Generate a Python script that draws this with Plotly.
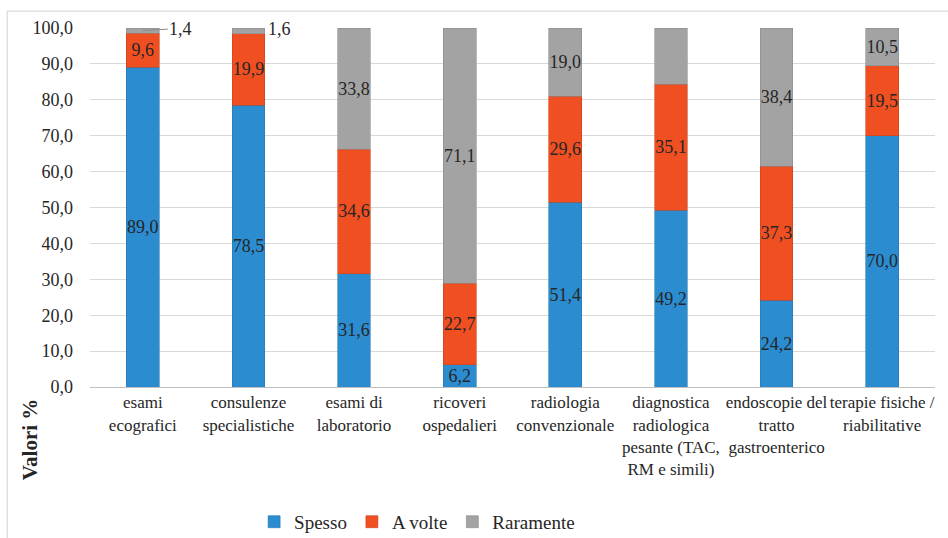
import plotly.graph_objects as go

categories = [
    "esami<br>ecografici",
    "consulenze<br>specialistiche",
    "esami di<br>laboratorio",
    "ricoveri<br>ospedalieri",
    "radiologia<br>convenzionale",
    "diagnostica<br>radiologica<br>pesante (TAC,<br>RM e simili)",
    "endoscopie del<br>tratto<br>gastroenterico",
    "terapie fisiche /<br>riabilitative",
]
spesso = [89.0, 78.5, 31.6, 6.2, 51.4, 49.2, 24.2, 70.0]
a_volte = [9.6, 19.9, 34.6, 22.7, 29.6, 35.1, 37.3, 19.5]
raramente = [1.4, 1.6, 33.8, 71.1, 19.0, 15.7, 38.4, 10.5]
y_ticks = [0, 10, 20, 30, 40, 50, 60, 70, 80, 90, 100]

FONT = "Liberation Serif, Times New Roman, serif"
TXT = "#262626"

series = [
    ("Spesso", spesso, "#2B8CD0", "#2779B2"),
    ("A volte", a_volte, "#F04F22", "#C9431C"),
    ("Raramente", raramente, "#A3A3A3", "#8C8C8C"),
]

# thin segments get their labels placed beside the bar instead of inside
SMALL = 5.0


def fmt(v):
    return f"{v:.1f}".replace(".", ",")


fig = go.Figure()
for name, vals, color, edge in series:
    labels = [("" if v < SMALL else fmt(v)) for v in vals]
    if name == "Spesso":
        labels = [fmt(v) for v in vals]
    fig.add_trace(go.Bar(
        name=name,
        x=categories,
        y=vals,
        width=0.31,
        marker=dict(color=color, line=dict(color=edge, width=0.6)),
        text=labels,
        textposition="inside",
        insidetextanchor="middle",
        textangle=0,
        constraintext="none",
        textfont=dict(family=FONT, size=18, color=TXT),
        cliponaxis=False,
    ))

# outside labels for the thin "Raramente" segments
for i, v in enumerate(raramente):
    if v >= SMALL:
        continue
    top = spesso[i] + a_volte[i] + v
    if i == 0:
        fig.add_annotation(
            x=categories[i], y=top - v / 2, text=fmt(v),
            showarrow=True, arrowhead=0, arrowwidth=1, arrowcolor="#8C8C8C",
            ax=38, ay=-2, standoff=0,
            font=dict(family=FONT, size=18, color=TXT),
        )
    else:
        fig.add_annotation(
            x=categories[i], y=top - v / 2, text=fmt(v),
            showarrow=False, xshift=31, yshift=2,
            font=dict(family=FONT, size=18, color=TXT),
        )

# y-axis title set low beside the category labels
fig.add_annotation(
    xref="paper", yref="paper", x=-0.071, y=-0.148,
    xanchor="center", yanchor="middle",
    text="<b>Valori %</b>", textangle=-90, showarrow=False,
    font=dict(family=FONT, size=21, color=TXT),
)

# outer frame of the chart area
fig.add_shape(
    type="rect", xref="paper", yref="paper",
    x0=-0.098, y0=-0.5, x1=1.1, y1=1.047,
    line=dict(color="#D0D0D0", width=1), fillcolor="rgba(0,0,0,0)", layer="below",
)

fig.update_layout(
    barmode="stack",
    width=948, height=538,
    margin=dict(l=90, r=13, t=28, b=151, autoexpand=False),
    paper_bgcolor="white", plot_bgcolor="white",
    separators=",.",
    font=dict(family=FONT, size=17, color=TXT),
    showlegend=True,
    legend=dict(
        orientation="h", xref="container", yref="container",
        x=0.44, xanchor="center", y=0.03, yanchor="middle",
        font=dict(family=FONT, size=19, color=TXT),
        itemwidth=30, traceorder="normal",
    ),
    xaxis=dict(
        tickangle=0, showgrid=False, showline=True, linecolor="#BFBFBF",
        linewidth=1, ticks="", automargin=False,
        tickfont=dict(family=FONT, size=17, color=TXT),
        range=[-0.5, 7.5],
    ),
    yaxis=dict(
        range=[0, 100], tickvals=y_ticks, tickformat=".1f",
        showgrid=True, gridcolor="#D9D9D9", gridwidth=1, zeroline=False,
        showline=False, ticks="", ticklabelstandoff=16, automargin=False,
        tickfont=dict(family=FONT, size=18, color=TXT),
    ),
)

fig.write_html("out.html")
